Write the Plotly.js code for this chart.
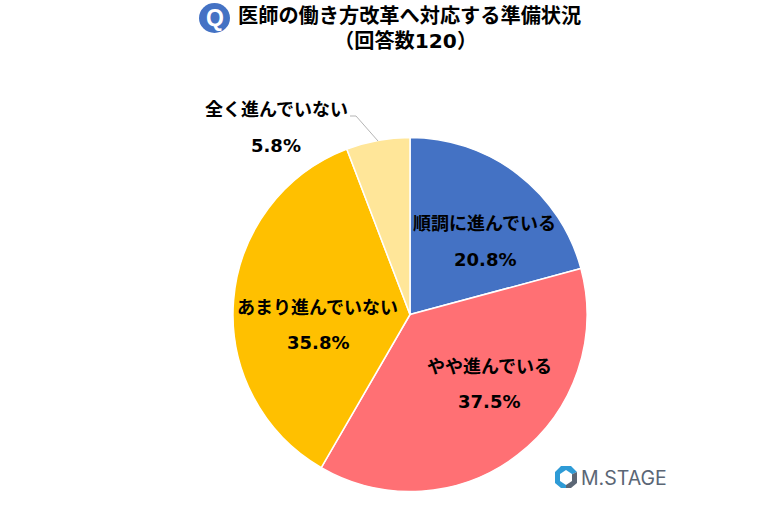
<!DOCTYPE html>
<html>
<head>
<meta charset="utf-8">
<script src="https://cdn.plot.ly/plotly-3.0.1.min.js"></script>
<style>html,body{margin:0;padding:0;background:#fff}</style>
</head>
<body>
<div id="myDiv" style="width:768px;height:505px"></div>
<script>
var categories = ["順調に進んでいる", "やや進んでいる", "あまり進んでいない", "全く進んでいない"];
var shares = [20.8, 37.5, 35.8, 5.8];
var shareLabels = ["20.8%", "37.5%", "35.8%", "5.8%"];
var sliceColors = ["#4472C4", "#FF7074", "#FFC000", "#FFE699"];
var titleLines = ["医師の働き方改革へ対応する準備状況", "（回答数120）"];

var W = 768, H = 505;
var FONT = '"DejaVu Sans", "Noto Sans CJK JP", sans-serif';
function px(x) { return x / W; }
function py(y) { return 1 - y / H; }

function label(text, x, y, size, color, family) {
    return {
        text: "<b>" + text + "</b>",
        x: px(x), y: py(y),
        xref: "paper", yref: "paper",
        xanchor: "center", yanchor: "middle",
        showarrow: false,
        font: {family: family || FONT, size: size, color: color || "#000000"}
    };
}

var trace = {
    type: "pie",
    labels: categories,
    values: shares,
    sort: false,
    direction: "clockwise",
    rotation: 0,
    textinfo: "none",
    hoverinfo: "label+percent",
    marker: {colors: sliceColors, line: {color: "#ffffff", width: 1.5}},
    domain: {x: [px(233), px(587)], y: [py(491.5), py(137.5)]}
};

var annotations = [
    label(titleLines[0], 409.5, 16, 20.2),
    label(titleLines[1], 405, 41, 20.2),
    label("Q", 214.5, 18, 23, "#ffffff", '"Liberation Sans Narrow", "Liberation Sans", sans-serif'),
    label(categories[0], 484.5, 224, 18),
    label(shareLabels[0], 484.5, 259, 18),
    label(categories[1], 489.5, 366, 18),
    label(shareLabels[1], 489, 401, 18),
    label(categories[2], 317.5, 307, 18),
    label(shareLabels[2], 317.5, 342, 18),
    label(categories[3], 276, 110, 18),
    label(shareLabels[3], 276, 145, 18),
    {
        text: "M.STAGE",
        x: px(624), y: py(477.5),
        xref: "paper", yref: "paper",
        xanchor: "center", yanchor: "middle",
        showarrow: false,
        font: {family: '"Inter", "Roboto", sans-serif', size: 19.5, color: "#5B6675"}
    }
];

function pxPath(points) {
    return "M" + points.map(function(p) { return px(p[0]) + "," + py(p[1]); }).join("L") + "Z";
}

var shapes = [
    // Q badge
    {type: "circle", xref: "paper", yref: "paper", x0: px(199), x1: px(230), y0: py(33), y1: py(3),
        fillcolor: "#4472C4", line: {width: 0}},
    // leader line of the small slice
    {type: "path", xref: "paper", yref: "paper",
        path: "M" + px(350) + "," + py(116) + "L" + px(356) + "," + py(116) + "L" + px(378) + "," + py(141),
        line: {color: "#b5b5b5", width: 1}},
    // logo mark, blue left part then grey right part, white hole on top
    {type: "path", xref: "paper", yref: "paper",
        path: pxPath([[561, 466], [571, 466], [577, 472], [566, 477], [566, 488], [561, 488], [555, 483], [555, 472]]),
        fillcolor: "#2E9BD6", line: {width: 0}},
    {type: "path", xref: "paper", yref: "paper",
        path: pxPath([[577, 472], [577, 483], [571, 488], [566, 488], [566, 477]]),
        fillcolor: "#5B6675", line: {width: 0}},
    {type: "path", xref: "paper", yref: "paper",
        path: pxPath([[566, 470], [572, 474], [572, 481], [566, 485], [560, 481], [560, 474]]),
        fillcolor: "#ffffff", line: {width: 0}}
];

var layout = {
    width: W,
    height: H,
    margin: {l: 0, r: 0, t: 0, b: 0},
    paper_bgcolor: "#ffffff",
    showlegend: false,
    annotations: annotations,
    shapes: shapes
};

Plotly.newPlot("myDiv", [trace], layout, {displayModeBar: false});
</script>
</body>
</html>
